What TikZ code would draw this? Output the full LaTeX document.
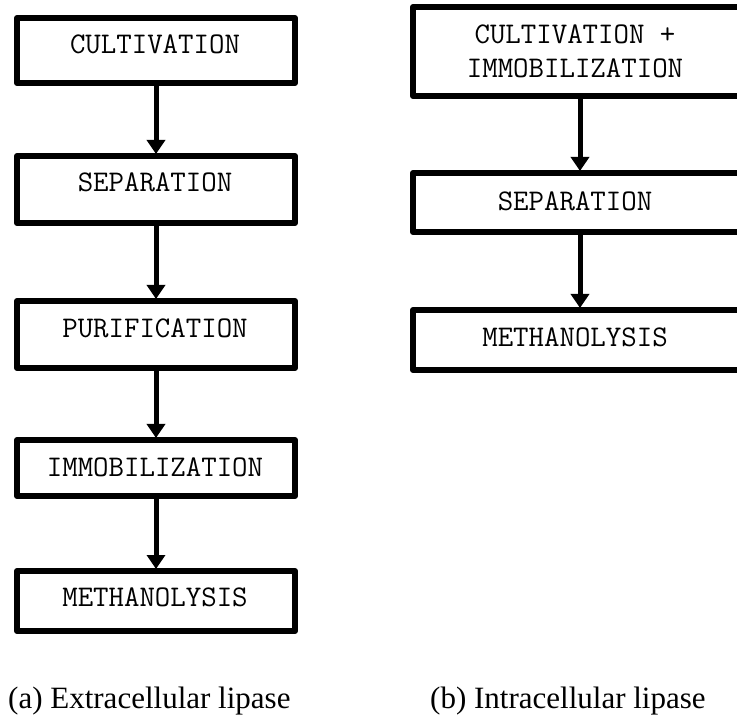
\documentclass[tikz,border=0pt]{standalone}
\usepackage{fontspec}
\setmainfont{Liberation Serif}
\usetikzlibrary{arrows.meta}
\tikzset{
  stepbox/.style={draw=black, line width=6pt, line join=round, fill=white, inner sep=0pt},
  boxtxt/.style={font=\ttfamily\fontsize{30}{34}\selectfont, inner sep=0pt, align=center},
  capt/.style={font=\fontsize{31}{36}\selectfont, inner sep=0pt, anchor=base west},
  flow/.style={line width=5pt, -{Triangle[width=18pt,length=14pt]}, shorten >=-1pt}
}
\begin{document}
\begin{tikzpicture}[x=1pt, y=-1pt]
\fill[white] (0,0) rectangle (737,719);
\useasboundingbox (0,0) rectangle (737,719);
\clip (0,0) rectangle (737,719);
% left column
\node[stepbox, minimum width=278pt, minimum height=65pt] (L1) at (156,50.5) {};
\node[stepbox, minimum width=278pt, minimum height=67pt] (L2) at (156,189.5) {};
\node[stepbox, minimum width=278pt, minimum height=67pt] (L3) at (156,334.5) {};
\node[stepbox, minimum width=278pt, minimum height=56pt] (L4) at (156,468) {};
\node[stepbox, minimum width=278pt, minimum height=60pt] (L5) at (156,601) {};
\node[boxtxt] (tL1) at (155,44) {CULTIVATION};
\node[boxtxt] (tL2) at (155,182) {SEPARATION};
\node[boxtxt] (tL3) at (155,328) {PURIFICATION};
\node[boxtxt] (tL4) at (155,467) {IMMOBILIZATION};
\node[boxtxt] (tL5) at (155,597) {METHANOLYSIS};
\draw[flow] (L1.south) -- (L2.north);
\draw[flow] (L2.south) -- (L3.north);
\draw[flow] (L3.south) -- (L4.north);
\draw[flow] (L4.south) -- (L5.north);
% right column
\node[stepbox, minimum width=334pt, minimum height=89pt] (R1) at (580,51.5) {};
\node[stepbox, minimum width=334pt, minimum height=59pt] (R2) at (580,202.5) {};
\node[stepbox, minimum width=334pt, minimum height=60pt] (R3) at (580,340) {};
\node[boxtxt] (tR1) at (575,51) {CULTIVATION +\\IMMOBILIZATION};
\node[boxtxt] (tR2) at (575,201) {SEPARATION};
\node[boxtxt] (tR3) at (575,337) {METHANOLYSIS};
\draw[flow] (R1.south) -- (R2.north);
\draw[flow] (R2.south) -- (R3.north);
% captions
\node[capt] (ca) at (8,708) {(a) Extracellular lipase};
\node[capt] (cb) at (430,708) {(b) Intracellular lipase};
\end{tikzpicture}
\end{document}
